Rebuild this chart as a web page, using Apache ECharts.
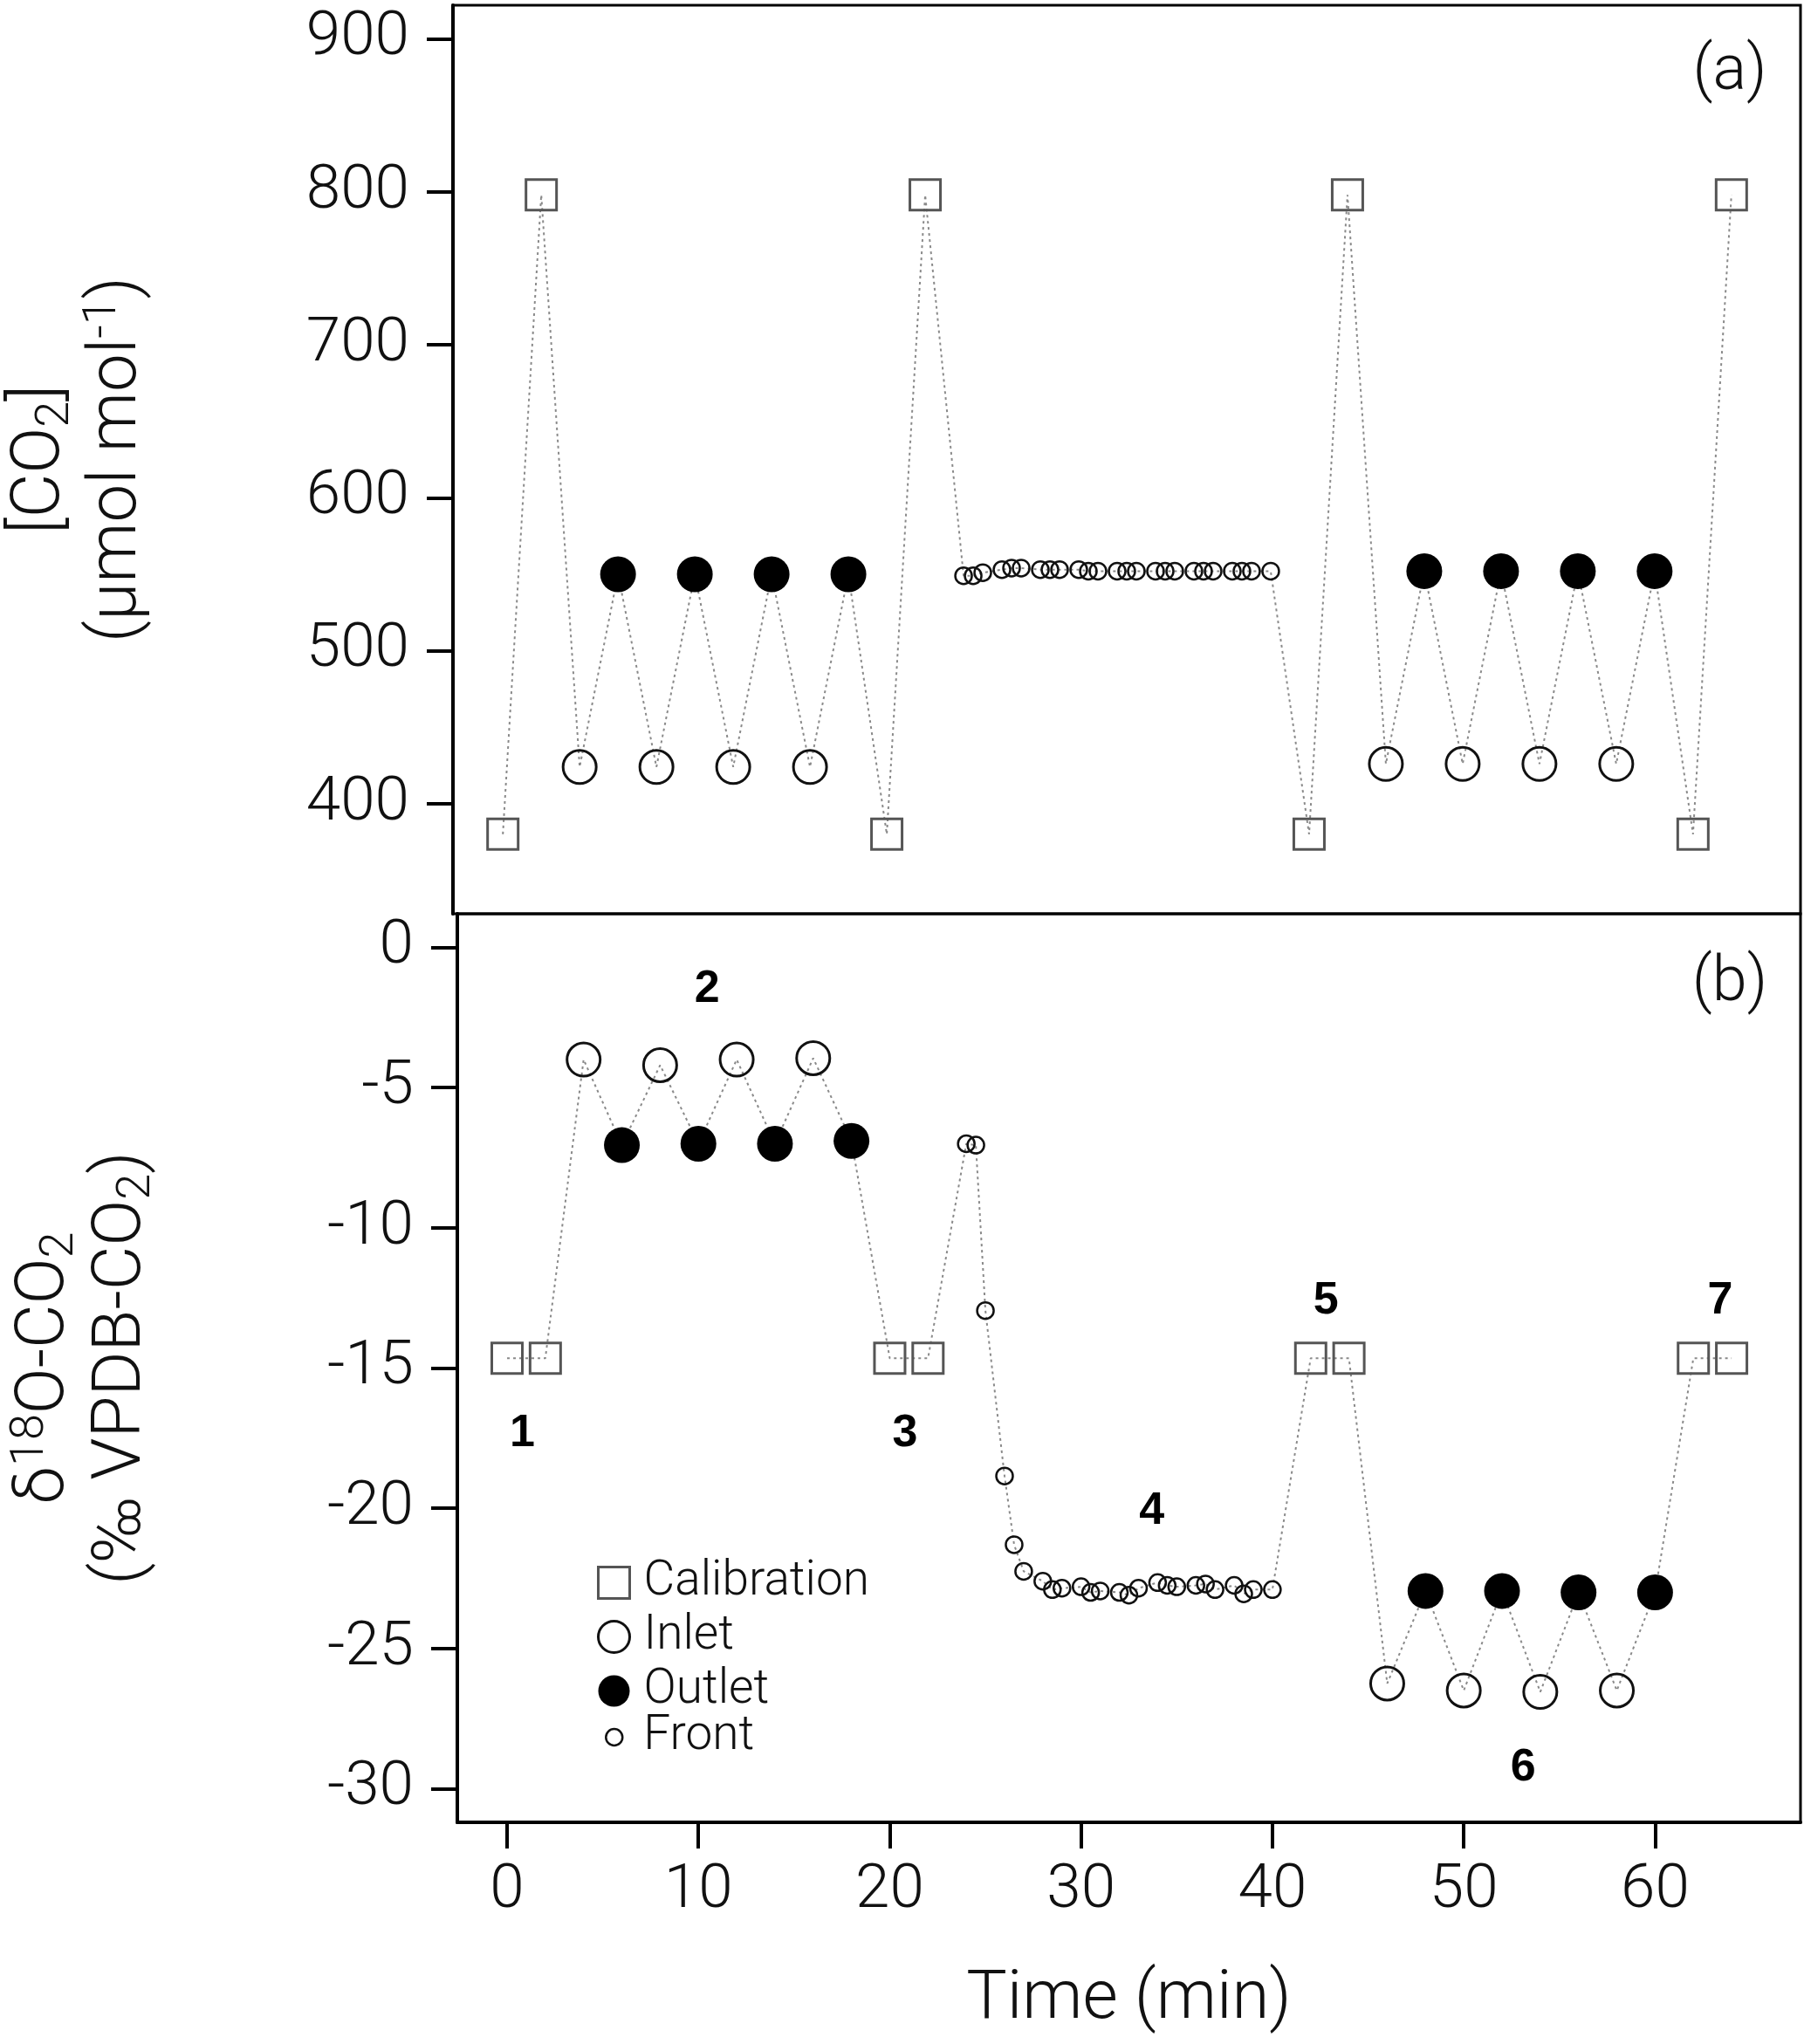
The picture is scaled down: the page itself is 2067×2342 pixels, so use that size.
<!DOCTYPE html>
<html>
<head>
<meta charset="utf-8">
<script src="https://cdn.jsdelivr.net/npm/echarts@6/dist/echarts.min.js"></script>
<style>
html,body{margin:0;padding:0;background:#fff;}
#chart{width:2067px;height:2342px;}
</style>
</head>
<body>
<div id="chart"></div>
<script>
// ---- Data ----
const calT    = [0, 2, 20, 22, 42, 44, 62, 64];
const inletT  = [4, 8, 12, 16, 46, 50, 54, 58];
const outletT = [6, 10, 14, 18, 48, 52, 56, 60];
const frontT  = [24, 24.5, 25, 26, 26.5, 27, 28, 28.5, 29, 30, 30.5, 31, 32, 32.5, 33, 34, 34.5, 35, 36, 36.5, 37, 38, 38.5, 39, 40];

// panel (a): [CO2] (umol mol-1)
const co2Cal    = [380, 798, 380, 798, 380, 798, 380, 798];
const co2Inlet  = [424, 424, 424, 424, 426, 426, 426, 426];
const co2Outlet = [550, 550, 550, 550, 552, 552, 552, 552];
const co2Front  = [549, 549, 551, 553, 554, 554, 553, 553, 553, 553, 552, 552, 552, 552, 552, 552, 552, 552, 552, 552, 552, 552, 552, 552, 552];

// panel (b): d18O-CO2 (permil VPDB-CO2)
const d18Cal    = [-14.65, -14.65, -14.65, -14.65, -14.65, -14.65, -14.65, -14.65];
const d18Inlet  = [-4.0, -4.2, -4.0, -3.95, -26.25, -26.5, -26.55, -26.5];
const d18Outlet = [-7.05, -7.0, -7.0, -6.9, -22.95, -22.95, -23.0, -23.0];
const d18Front  = [-7.0, -7.05, -12.95, -18.85, -21.3, -22.25, -22.6, -22.9, -22.85, -22.8, -23.0, -22.95, -23.0, -23.1, -22.85, -22.65, -22.75, -22.8, -22.75, -22.7, -22.9, -22.75, -23.05, -22.9, -22.9];

// phase annotations in panel (b)
const phaseT    = [0.8, 10.45, 20.8, 33.7, 42.8, 53.1, 63.4];
const phaseV    = [-17.35, -1.5, -17.35, -20.1, -12.6, -29.25, -12.6];
const phaseText = ['1', '2', '3', '4', '5', '6', '7'];

// tick labels
const timeTicks = [0, 10, 20, 30, 40, 50, 60];
const co2Ticks  = [400, 500, 600, 700, 800, 900];
const d18Ticks  = [-30, -25, -20, -15, -10, -5, 0];

// ---- helpers ----
const FONT = 'Roboto';
const BOLDFONT = 'Liberation Sans';
const zip = (xs, ys) => xs.map((x, i) => [x, ys[i]]);
const allSorted = (sets) => sets.flatMap(([xs, ys]) => zip(xs, ys)).sort((a, b) => a[0] - b[0]);

const lineA = allSorted([[calT, co2Cal], [inletT, co2Inlet], [outletT, co2Outlet], [frontT, co2Front]]);
const lineB = allSorted([[calT, d18Cal], [inletT, d18Inlet], [outletT, d18Outlet], [frontT, d18Front]]);

const TRANSP = 'rgba(255,255,255,0)';
const markerStyles = {
  Calibration: { symbol: 'rect', symbolSize: 35, itemStyle: { color: TRANSP, borderColor: '#555', borderWidth: 3, opacity: 1 } },
  Inlet:       { symbol: 'circle', symbolSize: 38, itemStyle: { color: TRANSP, borderColor: '#111', borderWidth: 3, opacity: 1 } },
  Outlet:      { symbol: 'circle', symbolSize: 41, itemStyle: { color: '#000', borderColor: '#000', borderWidth: 0, opacity: 1 } },
  Front:       { symbol: 'circle', symbolSize: 19, itemStyle: { color: TRANSP, borderColor: '#111', borderWidth: 2.5, opacity: 1 } }
};

function markerSeries(name, idx, xs, ys, z) {
  const s = markerStyles[name];
  return {
    type: 'scatter', name: name, xAxisIndex: idx, yAxisIndex: idx,
    data: zip(xs, ys), symbol: s.symbol, symbolSize: s.symbolSize,
    itemStyle: s.itemStyle, z: z, silent: true, animation: false
  };
}
function traceSeries(idx, data) {
  return {
    type: 'line', name: 'trace' + idx, xAxisIndex: idx, yAxisIndex: idx, data: data,
    showSymbol: false, symbol: 'none', z: 1, silent: true, animation: false,
    lineStyle: { color: '#8a8a8a', width: 2, type: [3, 4], opacity: 1 }
  };
}

const tickLabelStyle = { fontFamily: FONT, fontWeight: 300, fontSize: 71, color: '#111' };
const nameRich = {
  t:   { fontFamily: FONT, fontWeight: 300, fontSize: 78, lineHeight: 88, color: '#111' },
  sub: { fontFamily: FONT, fontWeight: 300, fontSize: 54, lineHeight: 44, verticalAlign: 'bottom', color: '#111' },
  sup: { fontFamily: FONT, fontWeight: 300, fontSize: 54, lineHeight: 56, verticalAlign: 'top', color: '#111' }
};

const gridBorder = { show: true, borderColor: '#000', borderWidth: 3, backgroundColor: 'rgba(0,0,0,0)' };

const option = {
  animation: false,
  backgroundColor: '#fff',
  grid: [
    Object.assign({ left: 517, right: 4, top: 6, height: 1041 }, gridBorder),
    Object.assign({ left: 517, right: 4, top: 1047, height: 1041 }, gridBorder)
  ],
  xAxis: [
    { gridIndex: 0, type: 'value', min: -2.6, max: 67.6, show: false },
    {
      gridIndex: 1, type: 'value', min: -2.6, max: 67.6,
      axisLine: { show: true, onZero: false, lineStyle: { color: '#000', width: 4 } },
      axisTick: { show: true, inside: false, length: 30, lineStyle: { color: '#000', width: 4 }, customValues: timeTicks },
      axisLabel: Object.assign({ show: true, margin: 44, customValues: timeTicks }, tickLabelStyle),
      splitLine: { show: false },
      name: 'Time (min)', nameLocation: 'middle', nameGap: 165,
      nameTextStyle: { fontFamily: FONT, fontWeight: 300, fontSize: 78, color: '#111' }
    }
  ],
  yAxis: [
    {
      gridIndex: 0, type: 'value', min: 328, max: 922,
      axisLine: { show: true, onZero: false, lineStyle: { color: '#000', width: 4 } },
      axisTick: { show: true, inside: false, length: 30, lineStyle: { color: '#000', width: 4 }, customValues: co2Ticks },
      axisLabel: Object.assign({ show: true, margin: 50, customValues: co2Ticks }, tickLabelStyle),
      splitLine: { show: false },
      name: '{t|[CO}{sub|2}{t|]}\n{t|(µmol mol}{sup|-1}{t|)}',
      nameLocation: 'middle', nameGap: 340, nameRotate: 90,
      nameTextStyle: { rich: nameRich, align: 'center' }
    },
    {
      gridIndex: 1, type: 'value', min: -31.2, max: 1.2,
      axisLine: { show: true, onZero: false, lineStyle: { color: '#000', width: 4 } },
      axisTick: { show: true, inside: false, length: 30, lineStyle: { color: '#000', width: 4 }, customValues: d18Ticks },
      axisLabel: Object.assign({ show: true, margin: 50, customValues: d18Ticks }, tickLabelStyle),
      splitLine: { show: false },
      name: '{t|δ}{sup|18}{t|O-CO}{sub|2}\n{t|(‰ VPDB-CO}{sub|2}{t|)}',
      nameLocation: 'middle', nameGap: 340, nameRotate: 90,
      nameTextStyle: { rich: nameRich, align: 'center' }
    }
  ],
  legend: [
    {
      orient: 'vertical', left: 684, top: 1786, padding: 0,
      itemWidth: 36, itemHeight: 36, itemGap: 7,
      textStyle: { fontFamily: FONT, fontWeight: 300, fontSize: 55, color: '#111', padding: [0, 0, 0, 11] },
      selectedMode: false,
      data: [
        { name: 'Calibration', icon: 'path://M0,0H10V10H0Z', itemStyle: { color: TRANSP, borderColor: '#555', borderWidth: 3, opacity: 1 } },
        { name: 'Inlet', icon: 'circle', itemStyle: { color: TRANSP, borderColor: '#111', borderWidth: 3, opacity: 1 } },
        { name: 'Outlet', icon: 'circle', itemStyle: { color: '#000', borderColor: '#000', borderWidth: 0, opacity: 1 } }
      ]
    },
    {
      orient: 'vertical', left: 693, top: 1963, padding: 0,
      itemWidth: 19, itemHeight: 19, itemGap: 5,
      textStyle: { fontFamily: FONT, fontWeight: 300, fontSize: 55, color: '#111', padding: [0, 0, 0, 19] },
      selectedMode: false,
      data: [
        { name: 'Front', icon: 'circle', itemStyle: { color: TRANSP, borderColor: '#111', borderWidth: 2.5, opacity: 1 } }
      ]
    }
  ],
  graphic: [
    { type: 'text', x: 1982, y: 84, silent: true,
      style: { text: '(a)', align: 'center', verticalAlign: 'middle', fontFamily: FONT, fontWeight: 300, fontSize: 72, fill: '#111' } },
    { type: 'text', x: 1982, y: 1128, silent: true,
      style: { text: '(b)', align: 'center', verticalAlign: 'middle', fontFamily: FONT, fontWeight: 300, fontSize: 72, fill: '#111' } }
  ],
  series: [
    traceSeries(0, lineA),
    markerSeries('Front', 0, frontT, co2Front, 3),
    markerSeries('Inlet', 0, inletT, co2Inlet, 4),
    markerSeries('Outlet', 0, outletT, co2Outlet, 5),
    markerSeries('Calibration', 0, calT, co2Cal, 6),
    traceSeries(1, lineB),
    markerSeries('Front', 1, frontT, d18Front, 3),
    markerSeries('Inlet', 1, inletT, d18Inlet, 4),
    markerSeries('Outlet', 1, outletT, d18Outlet, 5),
    markerSeries('Calibration', 1, calT, d18Cal, 6),
    {
      type: 'scatter', name: 'phases', xAxisIndex: 1, yAxisIndex: 1, silent: true,
      symbolSize: 1, itemStyle: { color: TRANSP, opacity: 1 }, z: 7,
      data: phaseT.map((t, i) => ({ value: [t, phaseV[i]], name: phaseText[i] })),
      label: { show: true, position: 'inside', formatter: '{b}', fontFamily: BOLDFONT, fontWeight: 'bold', fontSize: 52, color: '#000', opacity: 1 }
    }
  ]
};

const chart = echarts.init(document.getElementById('chart'), null, { renderer: 'canvas', width: 2067, height: 2342 });
chart.setOption(option);
</script>
</body>
</html>
